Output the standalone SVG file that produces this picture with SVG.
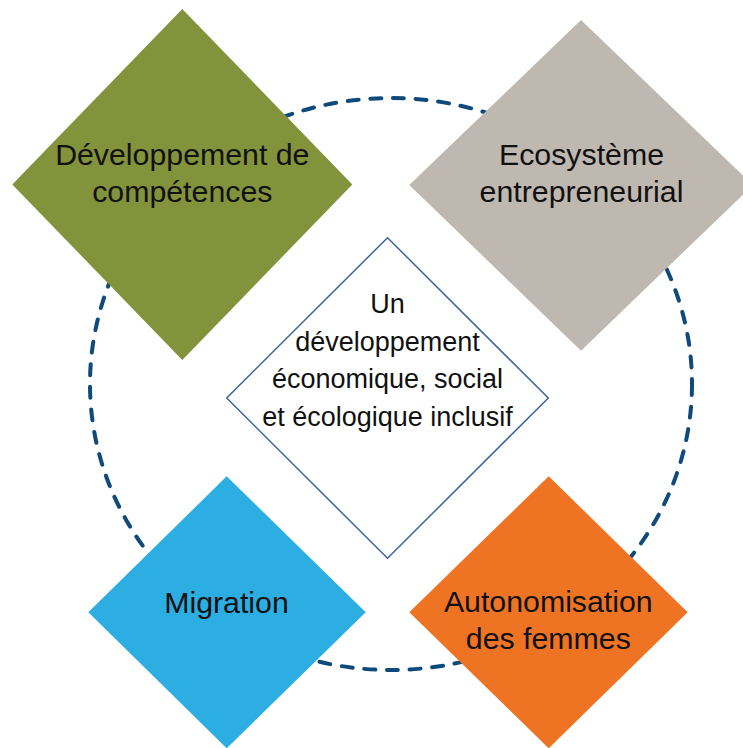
<svg xmlns="http://www.w3.org/2000/svg" width="743" height="748" viewBox="0 0 743 748">
<style>
  .lbl { font-family: "Liberation Sans", Arial, sans-serif; font-size: 30.3px; fill: #111111; text-anchor: middle; }
  .clbl { font-family: "Liberation Sans", Arial, sans-serif; font-size: 27px; fill: #111111; text-anchor: middle; }
  .ring { fill: none; stroke: #0E4A7B; stroke-width: 4; stroke-dasharray: 11 11.7; stroke-linecap: round; }
</style>
<rect width="743" height="748" fill="#ffffff"/>
<g id="connectors">
  <ellipse class="ring" cx="391" cy="384" rx="301" ry="286"/>
</g>
<g id="center">
  <polygon points="387.5,237.7 548.3,398 387.5,558.3 226.7,398" fill="#ffffff" stroke="#3B65A0" stroke-width="1.5"/>
  <text class="clbl" x="387.5" y="313.3">Un</text>
  <text class="clbl" x="387.5" y="350.7">développement</text>
  <text class="clbl" x="387.5" y="388.3">économique, social</text>
  <text class="clbl" x="387.5" y="425.7">et écologique inclusif</text>
</g>
<g id="competences">
  <polygon points="182.3,9 352.3,184.5 182.3,360 12.3,184.5" fill="#83933B"/>
  <text class="lbl" x="182.3" y="165">Développement de</text>
  <text class="lbl" x="182.3" y="201.7">compétences</text>
</g>
<g id="ecosysteme">
  <polygon points="581,20 753,185 581,350.7 409.3,185" fill="#BFB8B0"/>
  <text class="lbl" x="581.5" y="165">Ecosystème</text>
  <text class="lbl" x="581.5" y="201.7">entrepreneurial</text>
</g>
<g id="migration">
  <polygon points="226.7,476.3 365.7,612.3 226.7,748.3 88.3,612.3" fill="#2DAEE2"/>
  <text class="lbl" x="226.5" y="613">Migration</text>
</g>
<g id="autonomisation">
  <polygon points="548.7,476.3 687.7,612.3 548.7,748.3 409.3,612.3" fill="#EE7424"/>
  <text class="lbl" x="548.3" y="612.3">Autonomisation</text>
  <text class="lbl" x="548.3" y="649">des femmes</text>
</g>
</svg>
